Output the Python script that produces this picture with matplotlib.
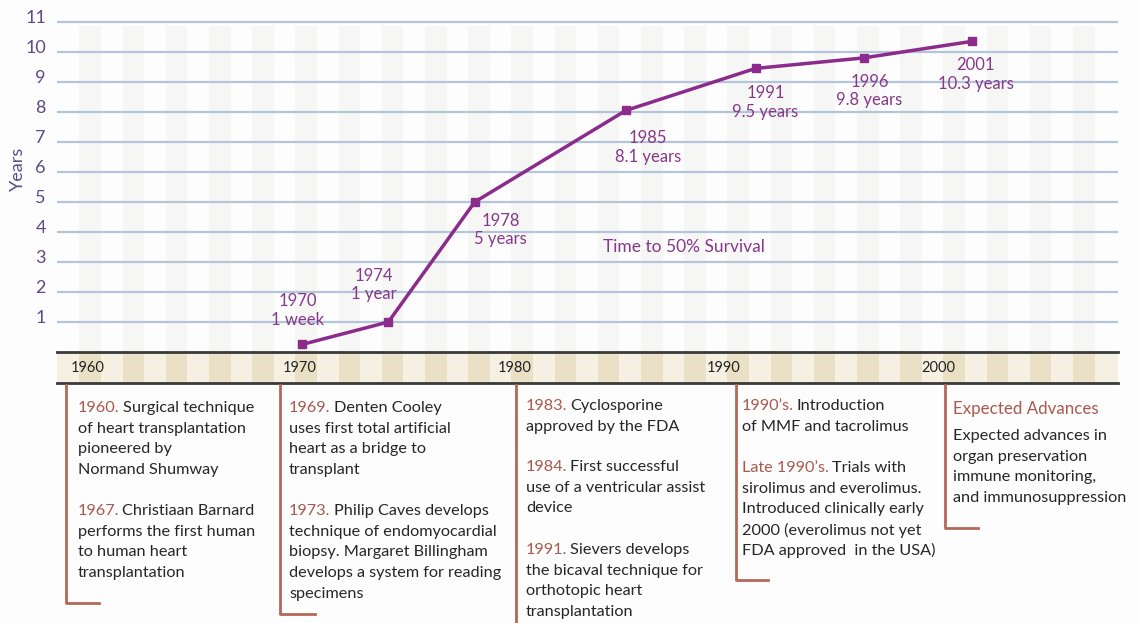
import matplotlib
matplotlib.use('Agg')
import matplotlib.pyplot as plt
from matplotlib.lines import Line2D
from matplotlib.transforms import ScaledTranslation

# data
years = [1970, 1974, 1978, 1985, 1991, 1996, 2001]
survival = [0.25, 1.0, 5.0, 8.05, 9.45, 9.8, 10.35]
point_labels = ['1970\n1 week', '1974\n1 year', '1978\n5 years', '1985\n8.1 years',
                '1991\n9.5 years', '1996\n9.8 years', '2001\n10.3 years']
label_offsets = [(-4, 34), (-15, 37), (26, -28), (22, -37), (10, -34), (6, -33), (4, -33)]
decades = [1960, 1970, 1980, 1990, 2000]
decade_pos = [1960.1, 1969.9, 1979.85, 1989.5, 1999.45]
y_ticks = list(range(1, 12))

# notes under the timeline: (x px, [(head, first line rest, y px, more lines)])
notes = [
    (78, [('1960.', 'Surgical technique', 408,
           ['of heart transplantation', 'pioneered by', 'Normand Shumway']),
          ('1967.', 'Christiaan Barnard', 511,
           ['performs the first human', 'to human heart', 'transplantation'])]),
    (289, [('1969.', 'Denten Cooley', 408,
            ['uses first total artificial', 'heart as a bridge to', 'transplant']),
           ('1973.', 'Philip Caves develops', 511,
            ['technique of endomyocardial', 'biopsy. Margaret Billingham',
             'develops a system for reading', 'specimens'])]),
    (526, [('1983.', 'Cyclosporine', 406, ['approved by the FDA']),
           ('1984.', 'First successful', 467, ['use of a ventricular assist', 'device']),
           ('1991.', 'Sievers develops', 550,
            ['the bicaval technique for', 'orthotopic heart', 'transplantation'])]),
    (742, [('1990\u2019s.', 'Introduction', 406, ['of MMF and tacrolimus']),
           ('Late 1990\u2019s.', 'Trials with', 468,
            ['sirolimus and everolimus.', 'Introduced clinically early',
             '2000 (everolimus not yet', 'FDA approved  in the USA)'])]),
]
expected_head = 'Expected Advances'
expected_lines = ['Expected advances in', 'organ preservation', 'immune monitoring,',
                  'and immunosuppression']

# brackets: (x, bottom y, end x) in px
brackets = [(66, 603, 99), (280, 614, 315), (516, 623, 516), (736, 580, 768), (945, 528, 978)]

W, H = 1138, 623
PURPLE = '#8b2b8c'
TXT_PURPLE = '#86388a'
AXIS_PURPLE = '#5e4a8a'
RED = '#a8594c'
DARK = '#262626'
BG = '#fdfdfd'
plt.rcParams['font.family'] = ['Lato', 'DejaVu Sans']

def fx(x):
    return x / W

def fy(y):
    return 1 - y / H

fig = plt.figure(figsize=(W / 100, H / 100), dpi=100)
fig.patch.set_facecolor(BG)

# main chart
ax = fig.add_axes([fx(57), fy(352), (1118 - 57) / W, (352 - 12) / H])
ax.set_xlim(1958.66, 2007.78)
ax.set_ylim(0, 11.33)
ax.set_facecolor(BG)
for yr in range(1960, 2008, 2):
    ax.axvspan(yr - 0.3, yr + 0.7, ymax=0.96, color='#f6f6f4', lw=0, zorder=0)
for v in y_ticks:
    ax.axhline(v, color='#b3c5d9', lw=1.6, zorder=1)
ax.plot(years, survival, color=PURPLE, lw=2.5, marker='s', ms=6, zorder=3)
for x, y, lab, off in zip(years, survival, point_labels, label_offsets):
    ax.annotate(lab, (x, y), xytext=off, textcoords='offset pixels', ha='center', va='center',
                color=TXT_PURPLE, fontsize=12, linespacing=1.2)
ax.text(1987.7, 3.5, 'Time to 50% Survival', color=TXT_PURPLE, fontsize=12.5,
        ha='center', va='center')

ax.set_yticks(y_ticks)
ax.set_yticklabels([str(v) for v in y_ticks], color=AXIS_PURPLE, fontsize=13)
ax.tick_params(axis='y', length=0, pad=8)
for lbl in ax.get_yticklabels():
    lbl.set_transform(lbl.get_transform() + ScaledTranslation(0, 4 / 72, fig.dpi_scale_trans))
ax.tick_params(axis='x', bottom=False, labelbottom=False)
ax.set_ylabel('Years', color=AXIS_PURPLE, fontsize=13)
ax.yaxis.set_label_coords(-0.029, 0.54)
for s in ax.spines.values():
    s.set_visible(False)

# timeline bar
ax2 = fig.add_axes([fx(57), fy(383), (1118 - 57) / W, 31 / H], sharex=ax)
ax2.set_facecolor('#f5f0e2')
ax2.set_ylim(0, 1)
for yr in range(1960, 2008, 2):
    ax2.axvspan(yr - 0.3, yr + 0.7, color='#e9e0c6', lw=0, zorder=0)
for d, p in zip(decades, decade_pos):
    ax2.text(p, 0.5, str(d), ha='center', va='center', fontsize=10.5, color='#222222')
ax2.set_yticks([])
ax2.tick_params(axis='x', bottom=False, labelbottom=False)
for side in ['left', 'right']:
    ax2.spines[side].set_visible(False)
for side in ['top', 'bottom']:
    ax2.spines[side].set_color('#3a3a3a')
    ax2.spines[side].set_linewidth(2)

# brackets
for x, yb, xe in brackets:
    fig.add_artist(Line2D([fx(x), fx(x), fx(xe)], [fy(385), fy(yb), fy(yb)],
                          color='#b5675a', lw=2))

FS = 11.7
STEP = 20.7

def note(x, head, rest, y, more):
    t = fig.text(fx(x), fy(y), head, color=RED, fontsize=FS, va='center')
    fig.add_artist(plt.Annotation(rest, xy=(1, 0), xycoords=t, xytext=(3, 0),
                                  textcoords='offset pixels', va='bottom', ha='left',
                                  color=DARK, fontsize=FS))
    for i, line in enumerate(more):
        fig.text(fx(x), fy(y + STEP * (i + 1)), line, color=DARK, fontsize=FS, va='center')

for x, entries in notes:
    for head, rest, y, more in entries:
        note(x, head, rest, y, more)

fig.text(fx(953), fy(409), expected_head, color=RED, fontsize=12.2, va='center')
for i, line in enumerate(expected_lines):
    fig.text(fx(953), fy(436 + STEP * i), line, color=DARK, fontsize=FS, va='center')

fig.savefig('out.png', dpi=100, facecolor=fig.get_facecolor())
